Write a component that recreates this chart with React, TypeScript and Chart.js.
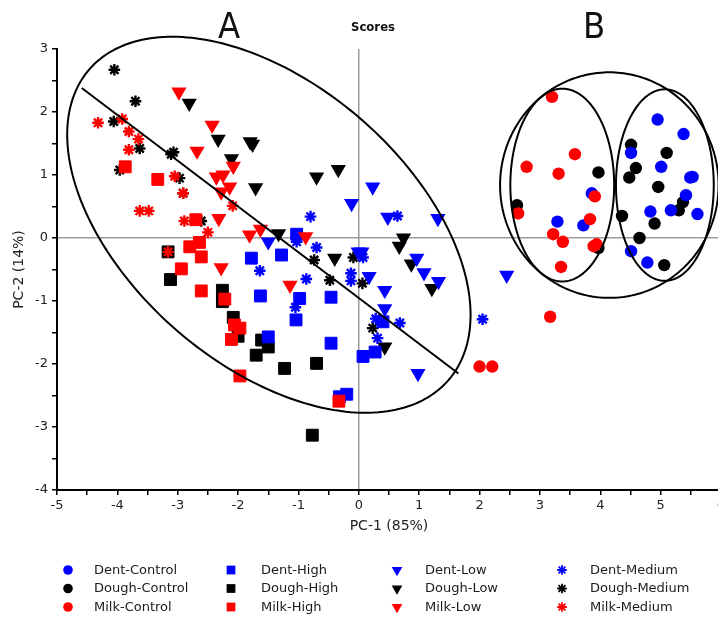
import React, { useEffect, useRef } from 'react';
import { Chart, registerables } from 'chart.js';
import { drawPoint } from 'chart.js/helpers';

Chart.register(...registerables);

// ---------- data (PC-1, PC-2 scores) ----------
const dentControl = [[3.86, 0.71], [3.29, 0.26], [3.72, 0.2], [4.95, 1.88], [5.38, 1.65], [4.51, 1.35], [5.01, 1.13], [5.49, 0.96], [5.53, 0.97], [5.42, 0.68], [4.83, 0.42], [5.17, 0.44], [5.61, 0.38], [4.51, -0.21], [4.78, -0.39]];
const doughControl = [[2.62, 0.52], [3.97, 1.04], [3.97, -0.16], [4.51, 1.48], [5.1, 1.35], [4.59, 1.11], [4.48, 0.96], [4.96, 0.81], [5.37, 0.57], [5.3, 0.44], [4.36, 0.35], [4.9, 0.23], [4.65, 0.0], [5.06, -0.43]];
const milkControl = [[3.2, 2.24], [2.78, 1.13], [3.58, 1.33], [3.31, 1.02], [3.91, 0.66], [2.64, 0.39], [3.83, 0.3], [3.22, 0.06], [3.38, -0.06], [3.89, -0.13], [3.94, -0.1], [3.35, -0.46], [2.0, -2.04], [2.21, -2.04], [3.17, -1.25]];

const dentHigh = [[-1.78, -0.32], [-1.28, -0.27], [-1.03, 0.06], [-1.63, -0.92], [-0.98, -0.96], [-0.46, -0.94], [-1.04, -1.3], [0.4, -1.33], [0.07, -1.88], [0.27, -1.81], [-0.46, -1.67], [-1.5, -1.57], [-0.2, -2.48], [-0.32, -2.52]];
const doughHigh = [[-3.16, -0.22], [-3.12, -0.66], [-2.26, -0.83], [-2.26, -1.01], [-2.08, -1.26], [-2.0, -1.56], [-1.61, -1.62], [-1.5, -1.73], [-1.7, -1.86], [-1.23, -2.07], [-0.7, -1.99], [-0.77, -3.13]];
const milkHigh = [[-3.87, 1.13], [-3.33, 0.93], [-2.7, 0.29], [-2.8, -0.14], [-2.64, -0.07], [-2.61, -0.3], [-2.94, -0.49], [-2.61, -0.84], [-2.22, -0.97], [-2.06, -1.38], [-1.97, -1.43], [-2.11, -1.61], [-1.97, -2.19], [-0.33, -2.59]];

const dentLow = [[-1.5, -0.06], [-0.12, 0.55], [0.23, 0.81], [0.48, 0.33], [1.31, 0.31], [-0.01, -0.22], [0.05, -0.22], [0.96, -0.32], [1.08, -0.55], [1.32, -0.69], [0.17, -0.61], [0.43, -0.83], [0.43, -1.12], [0.98, -2.15], [2.45, -0.59]];
const doughLow = [[-2.81, 2.14], [-2.33, 1.57], [-1.8, 1.53], [-1.76, 1.49], [-2.11, 1.26], [-1.71, 0.8], [-1.33, 0.07], [-0.7, 0.97], [-0.34, 1.09], [-0.4, -0.32], [0.74, 0.0], [0.67, -0.13], [0.87, -0.41], [1.21, -0.8], [0.43, -1.73]];
const milkLow = [[-2.98, 2.32], [-2.43, 1.79], [-2.68, 1.38], [-2.08, 1.14], [-2.36, 0.97], [-2.25, 1.0], [-2.14, 0.81], [-2.28, 0.73], [-2.32, 0.31], [-1.81, 0.05], [-1.63, 0.14], [-0.88, 0.02], [-2.28, -0.47], [-1.14, -0.75]];

const dentMedium = [[-0.8, 0.34], [0.64, 0.35], [-1.03, -0.06], [-0.7, -0.15], [0.07, -0.31], [-1.64, -0.52], [-0.87, -0.65], [-0.13, -0.56], [-0.13, -0.68], [-1.05, -1.1], [0.28, -1.28], [0.68, -1.35], [0.31, -1.59], [2.05, -1.29]];
const doughMedium = [[-4.05, 2.67], [-3.7, 2.17], [-4.06, 1.85], [-3.63, 1.42], [-3.11, 1.33], [-3.07, 1.36], [-2.97, 0.95], [-2.91, 0.71], [-3.96, 1.08], [-2.61, 0.27], [-0.74, -0.35], [-0.09, -0.31], [-0.48, -0.67], [0.06, -0.72], [0.23, -1.43]];
const milkMedium = [[-4.32, 1.83], [-3.92, 1.89], [-3.81, 1.69], [-3.65, 1.57], [-3.81, 1.4], [-3.05, 0.98], [-2.91, 0.71], [-3.63, 0.43], [-3.48, 0.43], [-2.89, 0.27], [-2.09, 0.51], [-2.5, 0.09], [-3.16, -0.22]];

// trend line through group A
const trendLine = [[-4.59, 2.38], [1.65, -2.15]];

// confidence ellipses: centre, first and second semi-axis vectors (data units)
const ellipseCenters = [[-1.49, 0.21], [4.15, 0.84], [3.37, 0.84], [5.07, 0.84]];
const ellipseAxisU = [[2.975, -2.466], [1.81, 0], [0.86, 0], [0.81, 0]];
const ellipseAxisV = [[-1.521, -1.681], [0, 1.79], [0, 1.53], [0, 1.52]];

const xTicksRange = [-5, 6];
const yTicksRange = [-4, 3];

const BLUE = '#0000ff';
const BLACK = '#000000';
const RED = '#ff0000';

const series = [
  { label: 'Dent-Control', data: dentControl, color: BLUE, level: 'Control' },
  { label: 'Dough-Control', data: doughControl, color: BLACK, level: 'Control' },
  { label: 'Milk-Control', data: milkControl, color: RED, level: 'Control' },
  { label: 'Dent-High', data: dentHigh, color: BLUE, level: 'High' },
  { label: 'Dough-High', data: doughHigh, color: BLACK, level: 'High' },
  { label: 'Milk-High', data: milkHigh, color: RED, level: 'High' },
  { label: 'Dent-Low', data: dentLow, color: BLUE, level: 'Low' },
  { label: 'Dough-Low', data: doughLow, color: BLACK, level: 'Low' },
  { label: 'Milk-Low', data: milkLow, color: RED, level: 'Low' },
  { label: 'Dent-Medium', data: dentMedium, color: BLUE, level: 'Medium' },
  { label: 'Dough-Medium', data: doughMedium, color: BLACK, level: 'Medium' },
  { label: 'Milk-Medium', data: milkMedium, color: RED, level: 'Medium' },
];

const markerStyle: Record<string, any> = {
  Control: { pointStyle: 'circle', radius: 6.2, rotation: 0, borderWidth: 0, legendRadius: 4.8 },
  High: { pointStyle: 'rect', radius: 8.4, rotation: 0, borderWidth: 1, legendRadius: 6.2 },
  Low: { pointStyle: 'triangle', radius: 8.8, rotation: 180, borderWidth: 0, legendRadius: 6.2 },
  Medium: { pointStyle: 'star', radius: 5.8, rotation: 0, borderWidth: 2.4, legendRadius: 4.8 },
};

const orderOf = (color: string) => (color === RED ? 1 : color === BLUE ? 2 : 3);

const SANS = '"DejaVu Sans", "Liberation Sans", Arial, sans-serif';
const COND = '"DejaVu Sans Condensed", "Liberation Sans Narrow", "DejaVu Sans", sans-serif';

const overlayPlugin = {
  id: 'overlay',
  afterDatasetsDraw(chart: any) {
    const ctx = chart.ctx;
    const xs = chart.scales.x;
    const ys = chart.scales.y;
    ctx.save();
    ctx.strokeStyle = '#000';
    ctx.lineWidth = 2;
    ellipseCenters.forEach((c, i) => {
      const u = ellipseAxisU[i];
      const v = ellipseAxisV[i];
      ctx.beginPath();
      const N = 240;
      for (let k = 0; k <= N; k++) {
        const t = (k / N) * Math.PI * 2;
        const dx = c[0] + u[0] * Math.cos(t) + v[0] * Math.sin(t);
        const dy = c[1] + u[1] * Math.cos(t) + v[1] * Math.sin(t);
        const px = xs.getPixelForValue(dx);
        const py = ys.getPixelForValue(dy);
        if (k === 0) ctx.moveTo(px, py);
        else ctx.lineTo(px, py);
      }
      ctx.closePath();
      ctx.stroke();
    });
    ctx.restore();
  },
  afterDraw(chart: any) {
    const ctx = chart.ctx;
    ctx.save();
    ctx.fillStyle = '#111';
    ctx.textBaseline = 'alphabetic';
    ctx.textAlign = 'center';
    ctx.font = `36px ${COND}`;
    ctx.fillText('A', 229, 38);
    ctx.fillText('B', 594, 38);
    ctx.font = `bold 13px ${COND}`;
    ctx.fillText('Scores', 373, 31);

    // legend: 4 columns (level) x 3 rows (variety)
    const markerX = [68, 231, 397, 562];
    const textX = [94, 261, 425, 590];
    const rowY = [570, 588.5, 607];
    ctx.textAlign = 'left';
    ctx.textBaseline = 'middle';
    ctx.font = `13px ${SANS}`;
    series.forEach((s, i) => {
      const col = Math.floor(i / 3);
      const row = i % 3;
      const st = markerStyle[s.level];
      ctx.fillStyle = s.color;
      ctx.strokeStyle = s.color;
      ctx.lineWidth = st.pointStyle === 'star' ? 1.8 : 0;
      drawPoint(ctx, {
        pointStyle: st.pointStyle,
        rotation: st.rotation,
        radius: st.legendRadius,
        borderWidth: st.pointStyle === 'star' ? 1.8 : 0,
      } as any, markerX[col], rowY[row]);
      ctx.fillStyle = '#1a1a1a';
      ctx.fillText(s.label, textX[col], rowY[row] + 0.5);
    });
    ctx.restore();
  },
};

export default function App() {
  const canvasRef = useRef<HTMLCanvasElement | null>(null);

  useEffect(() => {
    const canvas = canvasRef.current;
    if (!canvas) return;

    const datasets: any[] = series.map((s) => {
      const st = markerStyle[s.level];
      return {
        type: 'scatter',
        label: s.label,
        data: s.data.map(([x, y]) => ({ x, y })),
        pointStyle: st.pointStyle,
        pointRadius: st.radius,
        pointRotation: st.rotation,
        pointBackgroundColor: s.color,
        pointBorderColor: s.color,
        pointBorderWidth: st.borderWidth,
        backgroundColor: s.color,
        borderColor: s.color,
        showLine: false,
        order: orderOf(s.color),
      };
    });
    datasets.push({
      type: 'line',
      label: 'trend',
      data: trendLine.map(([x, y]) => ({ x, y })),
      borderColor: '#000',
      borderWidth: 2,
      pointRadius: 0,
      fill: false,
      order: 0,
    });

    const isWhole = (v: number) => Math.abs(v - Math.round(v)) < 1e-6;
    const gridCommon = {
      display: true,
      drawOnChartArea: true,
      drawTicks: true,
      tickLength: 5,
      tickColor: '#000',
      tickWidth: 1.5,
      lineWidth: 1.5,
      color: (c: any) => (c.tick && Math.abs(c.tick.value) < 1e-9 ? '#9c9c9c' : 'rgba(0,0,0,0)'),
    };

    const chart = new Chart(canvas, {
      type: 'scatter',
      data: { datasets },
      plugins: [overlayPlugin],
      options: {
        animation: false,
        responsive: false,
        events: [],
        layout: { padding: { left: 0, top: 49, right: 19, bottom: 83 } },
        plugins: {
          legend: { display: false },
          tooltip: { enabled: false },
          title: { display: false },
        },
        scales: {
          x: {
            type: 'linear',
            position: 'bottom',
            min: xTicksRange[0],
            max: xTicksRange[1],
            afterFit: (s: any) => { s.height = 45; },
            border: { display: true, color: '#000', width: 2 },
            grid: gridCommon as any,
            ticks: {
              stepSize: 0.5,
              autoSkip: false,
              maxRotation: 0,
              padding: 3,
              color: '#222',
              font: { family: SANS, size: 13 },
              callback: (v: any) => (isWhole(Number(v)) ? String(Math.round(Number(v))) : ''),
            },
            title: {
              display: true,
              text: 'PC-1 (85%)',
              color: '#222',
              font: { family: SANS, size: 14 },
              padding: { top: 0, bottom: 0 },
            },
          },
          y: {
            type: 'linear',
            min: yTicksRange[0],
            max: yTicksRange[1],
            afterFit: (s: any) => { s.width = 57; },
            border: { display: true, color: '#000', width: 2 },
            grid: gridCommon as any,
            ticks: {
              stepSize: 0.5,
              autoSkip: false,
              padding: 4,
              color: '#222',
              font: { family: SANS, size: 13 },
              callback: (v: any) => (isWhole(Number(v)) ? String(Math.round(Number(v))) : ''),
            },
            title: {
              display: true,
              text: 'PC-2 (14%)',
              color: '#222',
              font: { family: SANS, size: 14 },
              padding: { top: 11, bottom: 0 },
            },
          },
        },
      } as any,
    });

    return () => chart.destroy();
  }, []);

  return (
    <div style={{ position: 'fixed', left: 0, top: 0, width: 718, height: 618, overflow: 'hidden', background: '#fff' }}>
      <canvas ref={canvasRef} width={740} height={618} style={{ display: 'block', width: 740, height: 618 }} />
    </div>
  );
}
